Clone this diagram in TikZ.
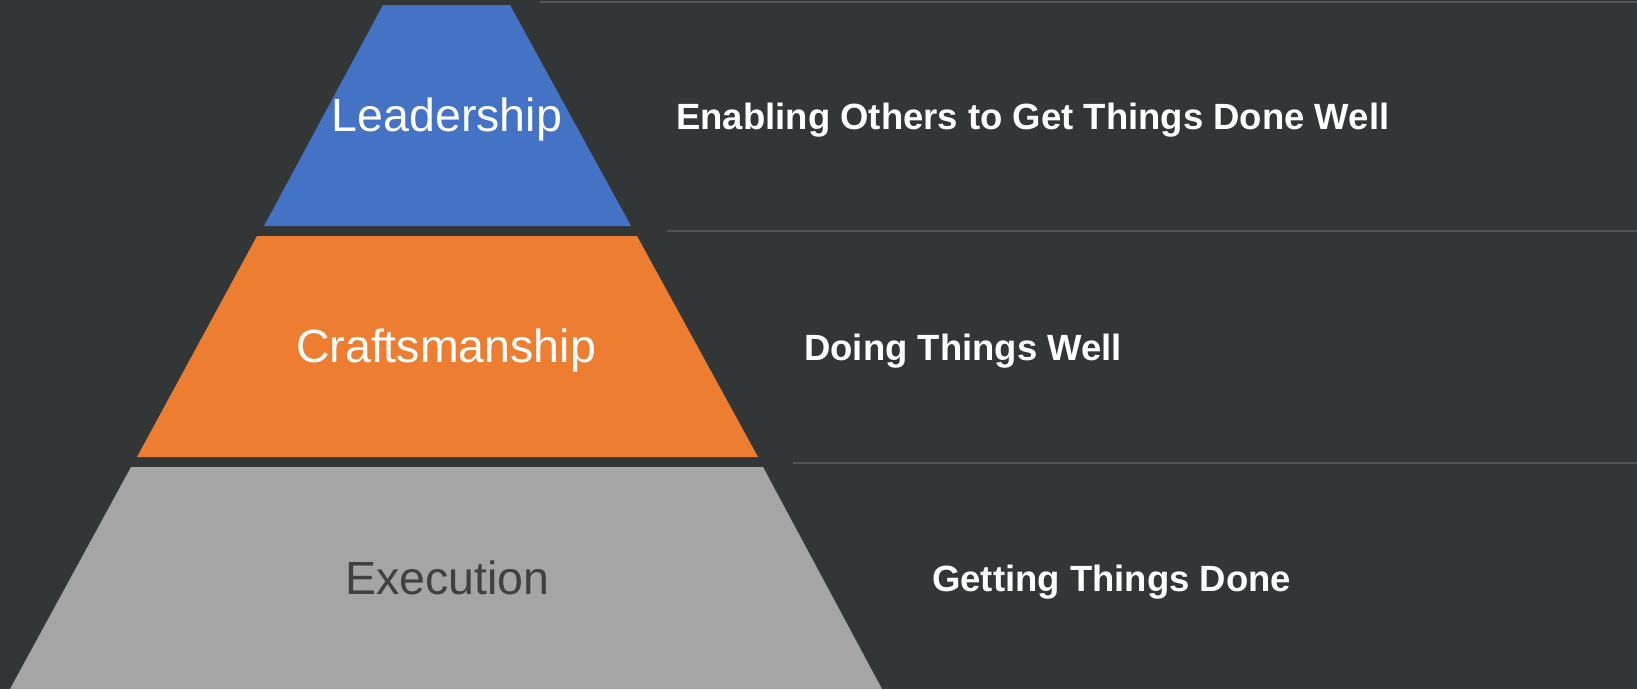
\documentclass[tikz,border=0pt]{standalone}
\usepackage{fontspec}
\setmainfont{Liberation Sans}
\definecolor{bg}{RGB}{50,54,55}
\definecolor{sepcol}{RGB}{82,82,88}
\definecolor{blueL}{RGB}{68,114,196}
\definecolor{orangeL}{RGB}{237,125,49}
\definecolor{grayL}{RGB}{165,165,165}
\definecolor{darktext}{RGB}{64,64,64}
\tikzset{
  tier/.style={draw=none},
  tierlabel/.style={anchor=base, inner sep=0pt, font=\fontsize{46.5}{52}\selectfont},
  desc/.style={anchor=base west, inner sep=0pt, text=white, font=\fontsize{36.5}{42}\selectfont\bfseries},
  sepline/.style={draw=sepcol, line width=2pt}
}
\begin{document}
\begin{tikzpicture}[x=1pt,y=-1pt]
\fill[bg] (0,0) rectangle (1637,689);
\useasboundingbox (0,0) rectangle (1637,689);
% tiers
\fill[blueL, tier] (383,5) -- (510,5) -- (631,226) -- (264,226) -- cycle;
\fill[orangeL, tier] (257,236) -- (637,236) -- (758,457) -- (137,457) -- cycle;
\fill[grayL, tier] (131,467) -- (763,467) -- (882,689) -- (10,689) -- cycle;
% separators
\coordinate (s1a) at (540,1.5);   \coordinate (s1b) at (1637,1.5);
\coordinate (s2a) at (667,231);   \coordinate (s2b) at (1637,231);
\coordinate (s3a) at (793,463);   \coordinate (s3b) at (1637,463);
\draw[sepline] (s1a) -- (s1b);
\draw[sepline] (s2a) -- (s2b);
\draw[sepline] (s3a) -- (s3b);
% tier labels
\node[tierlabel, text=white] (lead) at (447,131.7) {Leadership};
\node[tierlabel, text=white] (craft) at (446,362.7) {Craftsmanship};
\node[tierlabel, text=darktext] (exec) at (447.5,594) {Execution};
% descriptions
\node[desc] (d1) at (676,129.3) {Enabling Others to Get Things Done Well};
\node[desc] (d2) at (804,360) {Doing Things Well};
\node[desc] (d3) at (932,591.7) {Getting Things Done};
\end{tikzpicture}
\end{document}
